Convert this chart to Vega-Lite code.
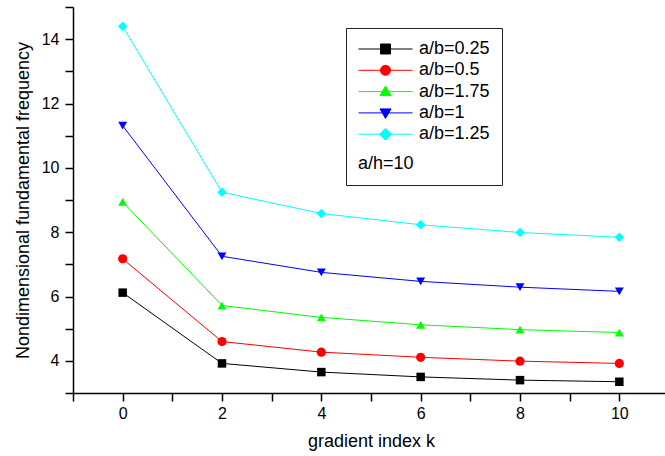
{
  "$schema": "https://vega.github.io/schema/vega-lite/v6.json",
  "width": 596,
  "height": 386,
  "autosize": "none",
  "padding": {"left": 73, "top": 7, "right": 0, "bottom": 63},
  "background": "white",
  "config": {
    "view": {"stroke": null},
    "font": "Liberation Sans",
    "axis": {
      "grid": false,
      "domainColor": "black",
      "tickColor": "black",
      "labelColor": "black",
      "titleColor": "black",
      "domainWidth": 1.5,
      "tickWidth": 1.5,
      "labelFont": "Liberation Sans",
      "titleFont": "Liberation Sans",
      "labelFontSize": 16,
      "titleFontSize": 18,
      "titleFontWeight": "normal",
      "labelOverlap": false,
      "labelFlush": false
    }
  },
  "data": {
    "values": [
      {"k": 0, "f": 6.12, "s": "a/b=0.25"},
      {"k": 2, "f": 3.92, "s": "a/b=0.25"},
      {"k": 4, "f": 3.65, "s": "a/b=0.25"},
      {"k": 6, "f": 3.50, "s": "a/b=0.25"},
      {"k": 8, "f": 3.40, "s": "a/b=0.25"},
      {"k": 10, "f": 3.35, "s": "a/b=0.25"},
      {"k": 0, "f": 7.17, "s": "a/b=0.5"},
      {"k": 2, "f": 4.60, "s": "a/b=0.5"},
      {"k": 4, "f": 4.27, "s": "a/b=0.5"},
      {"k": 6, "f": 4.11, "s": "a/b=0.5"},
      {"k": 8, "f": 3.99, "s": "a/b=0.5"},
      {"k": 10, "f": 3.92, "s": "a/b=0.5"},
      {"k": 0, "f": 8.94, "s": "a/b=1.75"},
      {"k": 2, "f": 5.72, "s": "a/b=1.75"},
      {"k": 4, "f": 5.35, "s": "a/b=1.75"},
      {"k": 6, "f": 5.12, "s": "a/b=1.75"},
      {"k": 8, "f": 4.97, "s": "a/b=1.75"},
      {"k": 10, "f": 4.88, "s": "a/b=1.75"},
      {"k": 0, "f": 11.31, "s": "a/b=1"},
      {"k": 2, "f": 7.25, "s": "a/b=1"},
      {"k": 4, "f": 6.75, "s": "a/b=1"},
      {"k": 6, "f": 6.47, "s": "a/b=1"},
      {"k": 8, "f": 6.29, "s": "a/b=1"},
      {"k": 10, "f": 6.16, "s": "a/b=1"},
      {"k": 0, "f": 14.40, "s": "a/b=1.25"},
      {"k": 2, "f": 9.24, "s": "a/b=1.25"},
      {"k": 4, "f": 8.58, "s": "a/b=1.25"},
      {"k": 6, "f": 8.23, "s": "a/b=1.25"},
      {"k": 8, "f": 7.99, "s": "a/b=1.25"},
      {"k": 10, "f": 7.84, "s": "a/b=1.25"}
    ]
  },
  "encoding": {
    "x": {
      "field": "k",
      "type": "quantitative",
      "scale": {"domain": [-1, 11], "nice": false, "zero": false},
      "axis": {
        "values": [-1, 0, 1, 2, 3, 4, 5, 6, 7, 8, 9, 10, 11],
        "labelExpr": "datum.value % 2 ? '' : datum.label",
        "tickSize": 8,
        "labelPadding": 4,
        "title": "gradient index k",
        "titlePadding": 11,
        "encode": {"ticks": {"update": {"y2": {"signal": "datum.value % 2 ? 5 : 8"}}}}
      }
    },
    "y": {
      "field": "f",
      "type": "quantitative",
      "scale": {"domain": [3, 15], "nice": false, "zero": false},
      "axis": {
        "values": [3, 4, 5, 6, 7, 8, 9, 10, 11, 12, 13, 14, 15],
        "labelExpr": "datum.value % 2 ? '' : datum.label",
        "tickSize": 8,
        "labelPadding": 6,
        "title": "Nondimensional fundamental frequency",
        "titlePadding": 9,
        "encode": {"ticks": {"update": {"x2": {"signal": "datum.value % 2 ? -5 : -8"}}}}
      }
    },
    "color": {
      "field": "s",
      "type": "nominal",
      "scale": {
        "domain": ["a/b=0.25", "a/b=0.5", "a/b=1.75", "a/b=1", "a/b=1.25"],
        "range": ["#000000", "#ff0000", "#00ff00", "#0000ff", "#00ffff"]
      },
      "legend": {
        "orient": "none",
        "legendX": 273,
        "legendY": 21,
        "title": "a/h=10",
        "titleOrient": "bottom",
        "titleAnchor": "start",
        "titleFont": "Liberation Sans",
        "titleFontWeight": "normal",
        "titleFontSize": 18,
        "titleColor": "black",
        "titlePadding": 12,
        "labelFont": "Liberation Sans",
        "labelFontSize": 18,
        "labelColor": "black",
        "labelOffset": 43,
        "labelLimit": 0,
        "symbolSize": 100,
        "symbolOffset": 0,
        "symbolStrokeWidth": 1,
        "rowPadding": 3.3,
        "padding": 12,
        "strokeColor": "#222222",
        "fillColor": "white",
        "encode": {
          "symbols": {
            "update": {
              "shape": {"signal": "datum.value === 'a/b=0.25' ? 'M-1.7,0H9.1M2.7,-1H4.7V1H2.7Z' : datum.value === 'a/b=0.5' ? 'M-1.7,0H9.1M2.7,0A1,1 0 1,1 4.7,0A1,1 0 1,1 2.7,0Z' : datum.value === 'a/b=1.75' ? 'M-1.7,0H9.1M3.7,-1.1L4.8,0.8L2.6,0.8Z' : datum.value === 'a/b=1' ? 'M-1.7,0H9.1M3.7,1.1L4.8,-0.8L2.6,-0.8Z' : 'M-1.7,0H9.1M3.7,-1.2L4.9,0L3.7,1.2L2.5,0Z'"},
              "fill": {"scale": "color", "field": "value"},
              "stroke": {"scale": "color", "field": "value"},
              "strokeWidth": {"value": 1},
              "opacity": {"value": 1}
            }
          }
        }
      }
    }
  },
  "layer": [
    {"mark": {"type": "line", "strokeWidth": 1}},
    {"transform": [{"filter": "datum.s === 'a/b=0.25'"}], "mark": {"type": "point", "shape": "square", "filled": true, "size": 72, "opacity": 1}},
    {"transform": [{"filter": "datum.s === 'a/b=0.5'"}], "mark": {"type": "point", "shape": "circle", "filled": true, "size": 85, "opacity": 1}},
    {"transform": [{"filter": "datum.s === 'a/b=1.75'"}], "mark": {"type": "point", "shape": "triangle-up", "filled": true, "size": 80, "opacity": 1}},
    {"transform": [{"filter": "datum.s === 'a/b=1'"}], "mark": {"type": "point", "shape": "triangle-down", "filled": true, "size": 80, "opacity": 1}},
    {"transform": [{"filter": "datum.s === 'a/b=1.25'"}], "mark": {"type": "point", "shape": "diamond", "filled": true, "size": 90, "opacity": 1}}
  ]
}
